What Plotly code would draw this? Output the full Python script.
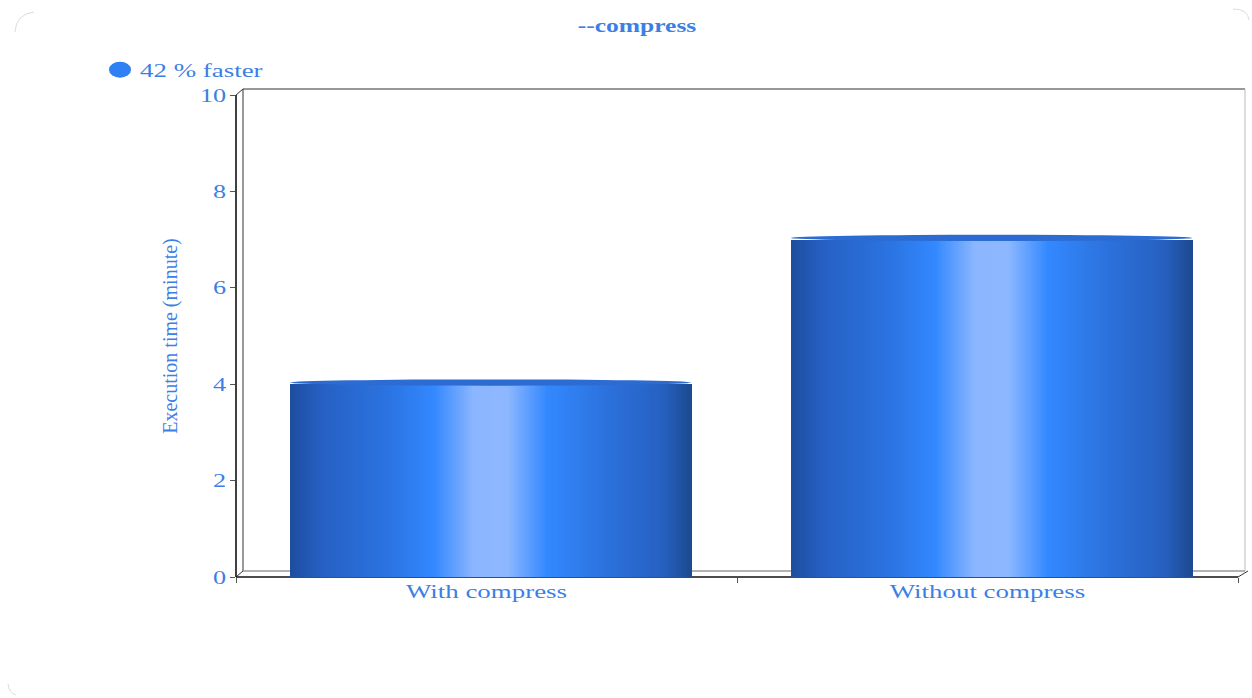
import plotly.graph_objects as go

# Chart data
categories = ["With compress", "Without compress"]
exec_minutes = [4, 7]
series_name = "42 % faster"
y_ticks = [0, 2, 4, 6, 8, 10]

W, H = 1252, 698
L, R, T, B = 236, 1238, 95, 577          # plot area in pixels
DX, DY = 7, 6                            # depth offset of the back wall

TXT = "#3b7fe6"
FONT = "Liberation Serif, Times New Roman, serif"
TEXT_WIDEN = 1.38                        # horizontal widening of the labels

# horizontal shading of the cylinders
stops = [
    (0.00, (29, 78, 158)), (0.08, (38, 96, 196)), (0.25, (43, 116, 226)),
    (0.36, (51, 136, 255)), (0.46, (140, 182, 255)), (0.54, (141, 184, 255)),
    (0.64, (51, 136, 255)), (0.80, (43, 112, 218)), (0.93, (38, 96, 192)),
    (1.00, (28, 74, 144)),
]


def shade(t):
    for (t0, c0), (t1, c1) in zip(stops, stops[1:]):
        if t0 <= t <= t1:
            f = (t - t0) / (t1 - t0) if t1 > t0 else 0
            c = [round(a + (b - a) * f) for a, b in zip(c0, c1)]
            return "rgb(%d,%d,%d)" % tuple(c)
    return "rgb(%d,%d,%d)" % stops[-1][1]


BAR_W = 0.8
SHIFT = 0.008
N = 200
fig = go.Figure()
for i in range(N):
    t = (i + 0.5) / N
    fig.add_trace(go.Bar(
        x=categories, y=exec_minutes,
        width=BAR_W / N * 1.6, offset=-BAR_W / 2 + SHIFT + i * BAR_W / N,
        marker=dict(color=shade(t), line=dict(width=0)),
        showlegend=False, hoverinfo="skip",
    ))

# legend entry for the series
fig.add_trace(go.Scatter(
    x=[None], y=[None], mode="markers", name=series_name,
    marker=dict(symbol="circle", size=16, color="#2f80f5"),
))


def px(x):
    return (x - L) / (R - L)


def py(y):
    return (B - y) / (B - T)


shapes = []
# cylinder caps
for idx, v in enumerate(exec_minutes):
    shapes.append(dict(type="circle", xref="x", yref="y",
                       x0=idx - BAR_W / 2 + SHIFT, x1=idx + BAR_W / 2 + SHIFT,
                       y0=v - 0.03, y1=v + 0.1,
                       fillcolor="#2b6bd2", line=dict(width=0), layer="above"))


def seg(x0, y0, x1, y1, color="#222", w=1.2):
    shapes.append(dict(type="line", xref="paper", yref="paper",
                       x0=px(x0), y0=py(y0), x1=px(x1), y1=py(y1),
                       line=dict(color=color, width=w), layer="below"))


# back wall
seg(L + DX, T - DY, R + DX, T - DY, "#333", 1)
seg(L + DX, T - DY, L + DX, B - DY, "#333", 1)
seg(R + DX, T - DY, R + DX, B - DY, "#bbb", 1)
seg(L + DX, B - DY, R + DX, B - DY, "#999", 1.5)
# depth edges
seg(L, T, L + DX, T - DY, "#333", 1)
seg(L, B, L + DX, B - DY, "#333", 1)
seg(R, B, R + DX + 3, B - DY, "#333", 1)
# front axes
seg(L, T, L, B, "#111", 1.6)
seg(L, B, R, B, "#111", 1.6)

# faint rounded corners of the container
corner = "#dcdcdc"
for path in [
    "M %f,%f Q %f,%f %f,%f" % (px(15), py(32), px(16), py(14), px(34), py(12)),
    "M %f,%f Q %f,%f %f,%f" % (px(1233), py(9), px(1248), py(9), px(1249), py(20)),
    "M %f,%f Q %f,%f %f,%f" % (px(8), py(684), px(9), py(693), px(16), py(695)),
]:
    shapes.append(dict(type="path", xref="paper", yref="paper", path=path,
                       line=dict(color=corner, width=1)))

fig.update_layout(
    width=W, height=H,
    margin=dict(l=L, r=W - R, t=T, b=H - B, pad=0),
    paper_bgcolor="white", plot_bgcolor="white",
    barmode="overlay", bargap=0,
    font=dict(family=FONT, color=TXT),
    title=dict(text="<b>--compress</b>", x=637 / W, xanchor="center",
               y=1 - 26 / H, yanchor="middle",
               font=dict(family=FONT, size=18.5, color=TXT)),
    xaxis=dict(
        type="category", categoryorder="array", categoryarray=categories,
        range=[-0.5, 1.5], showline=False, showgrid=False, zeroline=False,
        ticks="outside", tickson="boundaries", ticklen=5, tickcolor="#555",
        tickfont=dict(family=FONT, size=19.5, color=TXT),
        fixedrange=True,
    ),
    yaxis=dict(
        range=[0, 10], tickvals=y_ticks, showline=False, showgrid=False,
        zeroline=False, ticks="outside", ticklen=5, tickcolor="#555",
        tickfont=dict(family=FONT, size=19, color=TXT),
        title=dict(text="Execution time (minute)", standoff=24,
                   font=dict(family=FONT, size=20, color=TXT)),
        fixedrange=True,
    ),
    legend=dict(x=px(100), y=py(70), xanchor="left", yanchor="middle",
                bgcolor="rgba(0,0,0,0)", itemsizing="trace",
                font=dict(family=FONT, size=19.5, color=TXT)),
    showlegend=True,
    shapes=shapes,
)

# widen the horizontal labels (title, legend, tick labels) with SVG textLength
widen_js = """
var gd = document.getElementById('{plot_id}');
var k = %f;
gd.querySelectorAll('g.xtick > text, g.ytick > text, text.legendtext, text.gtitle')
  .forEach(function (t) {
    var w = t.getComputedTextLength();
    if (w > 0) {
      t.setAttribute('lengthAdjust', 'spacingAndGlyphs');
      t.setAttribute('textLength', (w * k).toFixed(2));
    }
  });
// the legend is sized before widening, so let it show the full entry
gd.querySelectorAll('g.legend [clip-path]').forEach(function (e) {
  e.removeAttribute('clip-path');
});
gd.querySelectorAll('g.legend g.legendpoints path').forEach(function (p) {
  var tr = p.getAttribute('transform') || '';
  p.setAttribute('transform', tr + ' scale(' + k + ',1)');
});
""" % TEXT_WIDEN

fig.write_html("out.html", post_script=widen_js)
